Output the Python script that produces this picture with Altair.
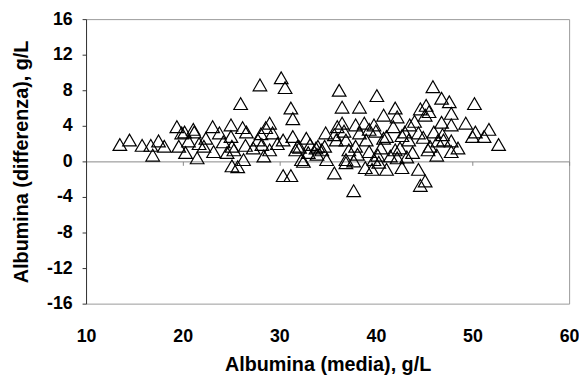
import altair as alt
import pandas as pd

# Albumina (media), g/L
x_media = [
    13.5, 14.5, 15.8, 16.7, 16.9, 17.5, 18.1, 19.4, 19.9, 19.6,
    20.3, 20.6, 21.1, 21.5, 21.7, 22.4, 23.1, 23.2, 23.8, 24.2,
    20.2, 21.2, 22.2, 24.6, 25.1, 25.0, 25.0, 25.3, 25.1, 25.7,
    26.0, 26.2, 26.6, 26.5, 26.3, 27.3, 28.0, 28.1, 28.2, 28.4,
    28.6, 29.0, 29.0, 29.3, 30.2, 30.6, 30.4, 30.4, 31.2, 31.2,
    31.4, 31.4, 31.7, 32.3, 32.1, 33.0, 33.2, 33.8, 33.9, 34.7,
    34.8, 34.9, 35.7, 35.7, 36.0, 36.2, 36.5, 38.3, 40.1, 36.7,
    36.5, 37.9, 38.8, 39.3, 39.8, 40.0, 38.3, 37.9, 38.1, 36.9,
    35.9, 34.4, 36.9, 37.7, 39.3, 39.8, 39.6, 38.9, 40.8, 41.1,
    42.0, 42.5, 42.7, 43.5, 43.4, 44.4, 44.4, 44.6, 45.1, 45.4,
    41.5, 42.2, 40.5, 40.8, 42.0, 42.2, 44.6, 45.2, 45.1, 45.9,
    46.8, 47.6, 50.2, 47.8, 45.5, 49.3, 50.3, 50.0, 51.2, 51.7,
    52.7, 46.8, 47.8, 46.0, 47.0, 47.8, 47.8, 45.6, 46.4, 46.3,
    41.1, 36.9, 37.7, 40.3, 32.5, 31.9, 34.0, 37.2, 43.0, 44.0,
    43.8, 44.9, 42.7, 39.0, 40.2, 43.2, 41.8, 46.9, 48.5, 27.8,
    29.8, 32.8,
]

# Albumina (differenza), g/L
y_diff = [
    1.9, 2.4, 1.8, 1.8, 0.7, 2.3, 1.7, 3.9, 3.2, 1.7,
    1.0, 2.3, 3.6, 0.4, 2.0, 2.6, 3.9, 1.1, 3.2, 2.2,
    3.3, 3.3, 1.7, 1.0, 1.7, 4.1, 2.8, 1.3, -0.5, -0.6,
    6.5, 3.8, 3.3, 1.8, 0.2, 1.5, 8.6, 3.1, 1.9, 0.6,
    3.8, 1.3, 4.3, 3.2, 9.4, 8.3, 2.4, -1.6, -1.6, 6.0,
    4.8, 2.8, 1.3, 0.2, 1.6, 1.0, 1.9, 1.5, 0.8, 1.7,
    3.2, 0.2, -1.3, 3.0, 3.9, 8.0, 6.1, 6.1, 7.4, 3.4,
    4.3, 4.1, 4.3, 3.6, 4.1, 3.4, 3.2, 1.7, 0.8, 2.4,
    2.4, 1.3, 0.2, -3.3, 1.1, 0.2, -0.9, -0.7, 2.6, -0.9,
    1.3, 1.5, -0.7, 4.1, 2.4, 3.2, -0.9, -2.7, -2.2, 1.3,
    0.6, 0.4, 1.5, 5.2, 6.0, 5.0, 5.9, 6.3, 5.2, 8.4,
    7.1, 6.7, 6.5, 5.4, 5.6, 4.3, 3.3, 2.8, 2.8, 3.6,
    1.9, 4.4, 4.1, 3.3, 2.4, 2.3, 1.1, 1.7, 2.3, 0.7,
    2.8, -0.15, 0.05, -0.1, 0.0, 1.7, 1.7, 1.3, 3.3, 4.5,
    1.0, 2.7, 2.9, 2.4, 0.7, 0.5, 3.9, 3.0, 1.5, 2.4,
    2.0, 2.6,
]

x_ticks = [10, 20, 30, 40, 50, 60]
y_ticks = [-16, -12, -8, -4, 0, 4, 8, 12, 16]

df = pd.DataFrame({"media": x_media, "diff": y_diff})

FONT = "Liberation Sans"

chart = alt.Chart(df).mark_point(
    shape="triangle-up",
    filled=False,
    stroke="black",
    strokeWidth=1.2,
    size=190,
    opacity=1,
).encode(
    x=alt.X(
        "media:Q",
        scale=alt.Scale(domain=[10, 60], nice=False, zero=False),
        axis=alt.Axis(
            orient="bottom",
            offset=-144,
            values=x_ticks,
            grid=False,
            domainColor="#888888",
            domainWidth=1,
            tickColor="#888888",
            tickSize=4,
            labelPadding=164,
            labelFlush=False,
            labelFont=FONT,
            labelFontSize=18,
            labelFontWeight="bold",
            labelColor="black",
            labelExpr="toString(datum.value)",
            title="Albumina (media), g/L",
            titleFont=FONT,
            titleFontSize=20,
            titleFontWeight="bold",
            titleColor="black",
            titleX=244.5,
            titleY=212,
            titleAlign="center",
            titleBaseline="alphabetic",
        ),
    ),
    y=alt.Y(
        "diff:Q",
        scale=alt.Scale(domain=[-16, 16], nice=False, zero=False),
        axis=alt.Axis(
            values=y_ticks,
            grid=False,
            domainColor="#333333",
            domainWidth=1,
            tickColor="#333333",
            tickSize=4,
            labelPadding=10,
            labelFont=FONT,
            labelFontSize=18,
            labelFontWeight="bold",
            labelColor="black",
            labelExpr="toString(datum.value)",
            title="Albumina (differenza), g/L",
            titleFont=FONT,
            titleFontSize=20,
            titleFontWeight="bold",
            titleColor="black",
            titleX=-59,
            titleY=144,
            titleAlign="center",
            titleBaseline="alphabetic",
        ),
    ),
).properties(
    width=489,
    height=288,
    autosize=alt.AutoSizeParams(type="none"),
    padding={"left": 79, "top": 9, "right": 10, "bottom": 72},
    background="white",
).configure_view(
    stroke="#999999",
    strokeWidth=1,
)

chart.save("out.html", embed_options={"renderer": "svg", "actions": False})
